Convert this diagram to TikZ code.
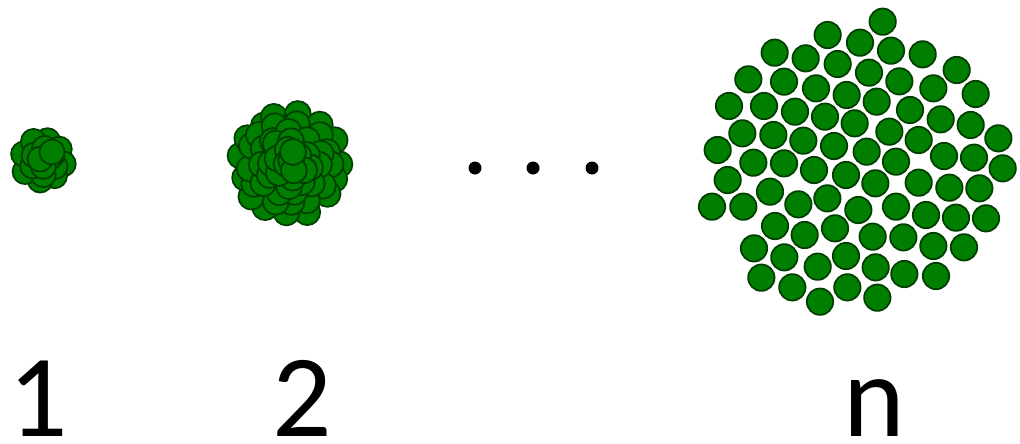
\documentclass[tikz,border=0pt]{standalone}
\usepackage{fontspec}
\setmainfont{Carlito}
\usetikzlibrary{calc}
\definecolor{ballfill}{RGB}{0,126,0}
\definecolor{ballline}{RGB}{0,62,0}
\tikzset{
  ball/.style={fill=ballfill, draw=ballline, line width=1.3pt},
  dotmark/.style={fill=black},
  numlabel/.style={anchor=base, inner sep=0pt, text depth=0pt, font=\fontsize{88}{88}\selectfont}
}
\begin{document}
\begin{tikzpicture}[x=0.75pt, y=-0.75pt]
\useasboundingbox (0,0) rectangle (1020,443);
\pgfmathsetseed{11}
% cluster 1
\coordinate (c1) at (43,161);
\foreach \r/\n in {20/8, 12/6, 5/3} {
  \pgfmathsetmacro\off{rnd*360}
  \foreach \k in {1,...,\n} {
    \pgfmathsetmacro\a{\off+\k*360/\n+rand*10}
    \pgfmathsetmacro\rr{\r+rand*2}
    \path[ball] ($(c1)+(\a:\rr)$) circle[radius=12.5];
  }
}
\path[ball] (52,152) circle[radius=12.5];
% cluster 2
\coordinate (c2) at (290,164);
\foreach \r/\n in {49/15, 40/13, 31/11, 22/8, 13/6, 5/3} {
  \pgfmathsetmacro\off{rnd*360}
  \foreach \k in {1,...,\n} {
    \pgfmathsetmacro\a{\off+\k*360/\n+rand*8}
    \pgfmathsetmacro\rr{\r+rand*3}
    \path[ball] ($(c2)+(\a:\rr)$) circle[radius=13];
  }
}
\path[ball] (293,152) circle[radius=13];
% dots
\foreach \x in {475,533,592} \fill[dotmark] (\x,168) circle[radius=6.5];
% cluster n
\begin{scope}[shift={(690,0)}]
\foreach \u/\v in {578/65,413/105,510/128,603/152,698/163,254/158,347/175,443/192,537/218,628/244,800/210,175/238,282/245,378/265,470/285,560/305,730/265,857/282,117/318,222/318,315/335,405/350,494/370,660/330,752/358,842/375,157/400,250/405,340/422,432/438,598/395,686/420,925/415,83/450,190/488,282/490,372/510,468/525,530/455,618/485,762/468,852/473,938/505,113/540,240/575,556/550,686/548,778/563,868/565,66/620,160/620,325/613,412/595,505/630,618/620,708/645,798/653,888/655,255/678,344/705,435/685,548/710,640/712,730/738,822/742,192/745,283/772,383/800,468/768,557/802,643/822,738/828,214/833,307/862,390/905,472/862,562/893}
  \path[ball] ({\u/3},{\v/3}) circle[radius=13.2];
\end{scope}
% labels
\node[numlabel] (l1) at (38,436) {1};
\node[numlabel] (l2) at (302,436) {2};
\node[numlabel] (ln) at (874,436) {n};
\end{tikzpicture}
\end{document}
